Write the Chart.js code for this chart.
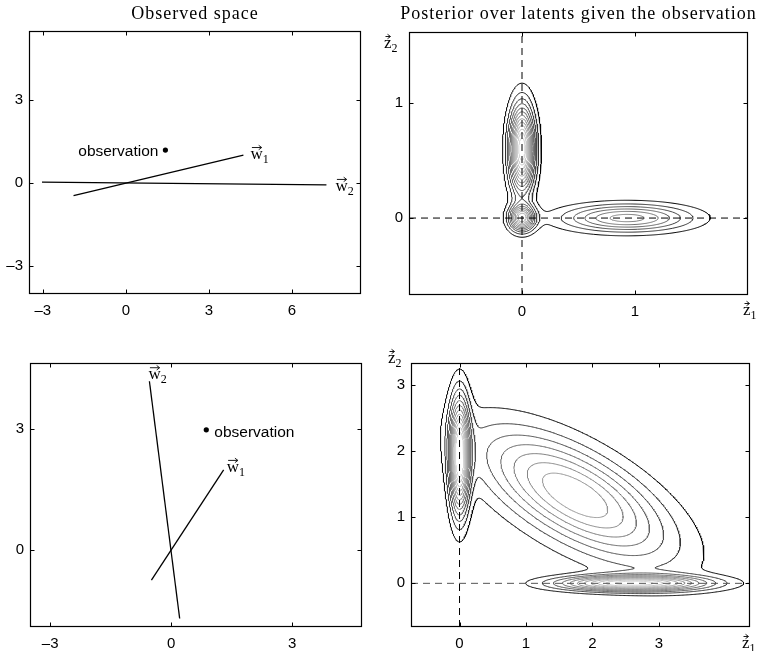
<!DOCTYPE html>
<html>
<head>
<meta charset="utf-8">
<script src="https://cdn.jsdelivr.net/npm/chart.js@4.4.1/dist/chart.umd.min.js"></script>
<style>
  html, body { margin: 0; padding: 0; background: #fff; }
  #wrap { position: relative; width: 763px; height: 651px; }
  #wrap canvas { position: absolute; left: 0; top: 0; }
</style>
</head>
<body>
<div id="wrap">
  <canvas id="obsTop" width="763" height="651"></canvas>
  <canvas id="postTop" width="763" height="651"></canvas>
  <canvas id="obsBot" width="763" height="651"></canvas>
  <canvas id="postBot" width="763" height="651"></canvas>
</div>
<script>
// ---- observed space, top row
const obsTopXTicks = [-3, 0, 3, 6];
const obsTopYTicks = [-3, 0, 3];
const obsTopW1 = [[-1.89, -0.45], [4.25, 1.02]];
const obsTopW2 = [[-3.03, 0.04], [7.25, -0.06]];
const obsTopPoint = [1.43, 1.2];

// ---- observed space, bottom row
const obsBotXTicks = [-3, 0, 3];
const obsBotYTicks = [0, 3];
const obsBotW1 = [[-0.49, -0.74], [1.3, 1.98]];
const obsBotW2 = [[0.21, -1.69], [-0.54, 4.17]];
const obsBotPoint = [0.87, 2.97];

// ---- posterior, top row (mixture components)
const postTopXTicks = [0, 1];
const postTopYTicks = [0, 1];
const postTopMeanX = [0, 0, 0.93];
const postTopMeanY = [0.6, 0, 0];
const postTopSdX = [0.075, 0.075, 0.38];
const postTopSdY = [0.25, 0.075, 0.08];
const postTopRho = [0, 0, 0];
const postTopPeak = [1.4, 1.0, 0.65];
const postTopLevels = [0.1, 0.2, 0.3, 0.4, 0.5, 0.6, 0.7, 0.8, 0.9, 1.0, 1.1, 1.2, 1.3];

// ---- posterior, bottom row
const postBotXTicks = [0, 1, 2, 3];
const postBotYTicks = [0, 1, 2, 3];
const postBotMeanX = [0, 1.74, 2.6];
const postBotMeanY = [1.92, 1.33, 0];
const postBotSdX = [0.1, 0.95, 0.73];
const postBotSdY = [0.57, 0.65, 0.078];
const postBotRho = [0, -0.66, 0];
const postBotPeak = [1.3, 0.8, 1.1];
const postBotLevels = [0.1, 0.2, 0.3, 0.4, 0.5, 0.6, 0.7, 0.8, 0.9, 1.0, 1.1, 1.2];

const W = 763, H = 651;
const SANS = '"Liberation Sans", Arial, sans-serif';
const SERIF = '"Liberation Serif", "Times New Roman", serif';

function fmtTick(v) {
  return v < 0 ? '\u2013' + Math.abs(v) : String(v);
}

function mixture(mx, my, sx, sy, rho, peak) {
  return function (x, y) {
    let s = 0;
    for (let k = 0; k < mx.length; k++) {
      const dx = (x - mx[k]) / sx[k];
      const dy = (y - my[k]) / sy[k];
      const r = rho[k];
      const q = (dx * dx - 2 * r * dx * dy + dy * dy) / (1 - r * r);
      s += peak[k] * Math.exp(-0.5 * q);
    }
    return s;
  };
}

// marching squares, segments chained into polylines
function contourLines(f, xr, yr, nx, ny, level) {
  const cols = nx + 1;
  const px = i => xr[0] + (xr[1] - xr[0]) * i / nx;
  const py = j => yr[0] + (yr[1] - yr[0]) * j / ny;
  const field = new Float64Array(cols * (ny + 1));
  for (let j = 0; j <= ny; j++) {
    for (let i = 0; i <= nx; i++) field[j * cols + i] = f(px(i), py(j));
  }
  const val = (i, j) => field[j * cols + i];
  const pts = new Map();
  const segs = [];

  function ep(id, i1, j1, i2, j2) {
    if (!pts.has(id)) {
      const a = val(i1, j1), b = val(i2, j2);
      const t = (level - a) / (b - a);
      pts.set(id, { x: px(i1) + (px(i2) - px(i1)) * t, y: py(j1) + (py(j2) - py(j1)) * t });
    }
    return id;
  }

  for (let j = 0; j < ny; j++) {
    for (let i = 0; i < nx; i++) {
      const a = val(i, j) >= level ? 1 : 0;
      const b = val(i + 1, j) >= level ? 2 : 0;
      const c = val(i + 1, j + 1) >= level ? 4 : 0;
      const d = val(i, j + 1) >= level ? 8 : 0;
      const code = a | b | c | d;
      if (code === 0 || code === 15) continue;
      const B = () => ep(2 * (j * cols + i), i, j, i + 1, j);
      const R = () => ep(2 * (j * cols + i + 1) + 1, i + 1, j, i + 1, j + 1);
      const T = () => ep(2 * ((j + 1) * cols + i), i, j + 1, i + 1, j + 1);
      const L = () => ep(2 * (j * cols + i) + 1, i, j, i, j + 1);
      const centerHigh = (val(i, j) + val(i + 1, j) + val(i + 1, j + 1) + val(i, j + 1)) / 4 >= level;
      switch (code) {
        case 1: case 14: segs.push([L(), B()]); break;
        case 2: case 13: segs.push([B(), R()]); break;
        case 3: case 12: segs.push([L(), R()]); break;
        case 4: case 11: segs.push([R(), T()]); break;
        case 6: case 9: segs.push([B(), T()]); break;
        case 7: case 8: segs.push([L(), T()]); break;
        case 5:
          if (centerHigh) { segs.push([B(), R()]); segs.push([T(), L()]); }
          else { segs.push([L(), B()]); segs.push([R(), T()]); }
          break;
        case 10:
          if (centerHigh) { segs.push([L(), B()]); segs.push([R(), T()]); }
          else { segs.push([B(), R()]); segs.push([T(), L()]); }
          break;
      }
    }
  }

  const adj = new Map();
  segs.forEach(function (s, k) {
    s.forEach(function (e) {
      if (!adj.has(e)) adj.set(e, []);
      adj.get(e).push(k);
    });
  });
  const used = new Uint8Array(segs.length);
  const lines = [];
  const walk = function (startId) {
    const out = [];
    let cur = startId;
    for (;;) {
      const next = (adj.get(cur) || []).find(m => !used[m]);
      if (next === undefined) break;
      used[next] = 1;
      const s = segs[next];
      cur = s[0] === cur ? s[1] : s[0];
      out.push(cur);
    }
    return out;
  };
  for (let k = 0; k < segs.length; k++) {
    if (used[k]) continue;
    used[k] = 1;
    const fwd = walk(segs[k][1]);
    const back = walk(segs[k][0]);
    const chain = back.reverse().concat([segs[k][0], segs[k][1]], fwd);
    lines.push(chain.map(id => pts.get(id)));
  }
  return lines;
}

function contourDatasets(f, xr, yr, nx, ny, levels) {
  return levels.map(function (lv, idx) {
    const t = levels.length > 1 ? idx / (levels.length - 1) : 0;
    const g = Math.round(215 * Math.pow(t, 0.6));
    const data = [];
    contourLines(f, xr, yr, nx, ny, lv).forEach(function (line) {
      line.forEach(p => data.push(p));
      data.push({ x: null, y: null });
    });
    return {
      data: data,
      showLine: true,
      spanGaps: false,
      borderColor: 'rgb(' + g + ',' + g + ',' + g + ')',
      borderWidth: 1,
      pointRadius: 0,
      tension: 0,
      order: 5,
    };
  });
}

function segDataset(pair, opts) {
  return Object.assign({
    data: pair.map(p => ({ x: p[0], y: p[1] })),
    showLine: true,
    borderColor: '#000',
    borderWidth: 1.3,
    pointRadius: 0,
    tension: 0,
    order: 1,
  }, opts || {});
}

function vecLabel(ctx, x, y, letter, sub) {
  ctx.save();
  ctx.fillStyle = '#000';
  ctx.strokeStyle = '#000';
  ctx.textAlign = 'left';
  ctx.textBaseline = 'alphabetic';
  ctx.font = '17px ' + SERIF;
  ctx.fillText(letter, x, y);
  const w = ctx.measureText(letter).width;
  ctx.font = '12px ' + SERIF;
  ctx.fillText(sub, x + w, y + 4);
  const ay = y - 11.5;
  ctx.lineWidth = 0.9;
  ctx.beginPath();
  ctx.moveTo(x + 1.5, ay);
  ctx.lineTo(x + w - 1.5, ay);
  ctx.moveTo(x + w - 4, ay - 2.2);
  ctx.lineTo(x + w - 1, ay);
  ctx.lineTo(x + w - 4, ay + 2.2);
  ctx.stroke();
  ctx.restore();
}

function framePlugin(xTicks, yTicks, extra) {
  return {
    id: 'frame',
    afterDraw: function (chart) {
      const ctx = chart.ctx;
      const a = chart.chartArea;
      const xs = chart.scales.x, ys = chart.scales.y;
      const l = Math.round(a.left) + 0.5, r = Math.round(a.right) - 0.5;
      const t = Math.round(a.top) + 0.5, b = Math.round(a.bottom) - 0.5;
      ctx.save();
      ctx.strokeStyle = '#000';
      ctx.lineWidth = 1;
      ctx.beginPath();
      xTicks.forEach(function (v) {
        const p = Math.round(xs.getPixelForValue(v)) + 0.5;
        ctx.moveTo(p, b); ctx.lineTo(p, b - 4);
        ctx.moveTo(p, t); ctx.lineTo(p, t + 4);
      });
      yTicks.forEach(function (v) {
        const p = Math.round(ys.getPixelForValue(v)) + 0.5;
        ctx.moveTo(l, p); ctx.lineTo(l + 4, p);
        ctx.moveTo(r, p); ctx.lineTo(r - 4, p);
      });
      ctx.stroke();
      ctx.lineWidth = 1.2;
      ctx.strokeRect(l, t, r - l, b - t);
      ctx.restore();
      if (extra) extra(chart, ctx, xs, ys);
    },
  };
}

function makeChart(id, box, xr, yr, xTicks, yTicks, datasets, extra) {
  const tickFont = { family: SANS, size: 15 };
  return new Chart(document.getElementById(id), {
    type: 'scatter',
    data: { datasets: datasets },
    options: {
      responsive: false,
      animation: false,
      events: [],
      layout: { padding: { left: 0, top: box.top, right: W - box.right, bottom: 0 } },
      plugins: { legend: { display: false }, tooltip: { enabled: false } },
      scales: {
        x: {
          type: 'linear', min: xr[0], max: xr[1],
          afterBuildTicks: function (s) { s.ticks = xTicks.map(v => ({ value: v })); },
          afterFit: function (s) { s.height = H - box.bottom; },
          grid: { display: false, drawTicks: false },
          border: { display: false },
          ticks: { color: '#000', font: tickFont, padding: 8, maxRotation: 0, autoSkip: false, callback: fmtTick },
        },
        y: {
          type: 'linear', min: yr[0], max: yr[1],
          afterBuildTicks: function (s) { s.ticks = yTicks.map(v => ({ value: v })); },
          afterFit: function (s) { s.width = box.left; },
          grid: { display: false, drawTicks: false },
          border: { display: false },
          ticks: { color: '#000', font: tickFont, padding: 6, autoSkip: false, callback: fmtTick },
        },
      },
    },
    plugins: [framePlugin(xTicks, yTicks, extra)],
  });
}

function title(ctx, text, cx) {
  ctx.save();
  ctx.fillStyle = '#000';
  ctx.font = '18px ' + SERIF;
  ctx.textAlign = 'center';
  ctx.textBaseline = 'alphabetic';
  ctx.letterSpacing = '1px';
  ctx.fillText(text, cx, 19);
  ctx.restore();
}

function obsLabel(ctx, text, x, y, align) {
  ctx.save();
  ctx.fillStyle = '#000';
  ctx.font = '15.5px ' + SANS;
  ctx.textAlign = align;
  ctx.textBaseline = 'middle';
  ctx.fillText(text, x, y);
  ctx.restore();
}

function dotDataset(p) {
  return {
    data: [{ x: p[0], y: p[1] }],
    pointRadius: 2.6,
    pointBackgroundColor: '#000',
    pointBorderColor: '#000',
    pointBorderWidth: 0,
    order: 0,
  };
}

// ---------- panel 1: observed space (top)
const boxObsTop = { left: 29, right: 361, top: 31, bottom: 294 };
const obsTopXR = [-3.5, 8.5], obsTopYR = [-4, 5.5];
makeChart('obsTop', boxObsTop, obsTopXR, obsTopYR, obsTopXTicks, obsTopYTicks,
  [segDataset(obsTopW1), segDataset(obsTopW2), dotDataset(obsTopPoint)],
  function (chart, ctx, xs, ys) {
    title(ctx, 'Observed space', (boxObsTop.left + boxObsTop.right) / 2);
    obsLabel(ctx, 'observation', xs.getPixelForValue(obsTopPoint[0]) - 7, ys.getPixelForValue(obsTopPoint[1]) + 2, 'right');
    vecLabel(ctx, xs.getPixelForValue(obsTopW1[1][0]) + 7, ys.getPixelForValue(obsTopW1[1][1]) + 4, 'w', '1');
    vecLabel(ctx, xs.getPixelForValue(obsTopW2[1][0]) + 9, ys.getPixelForValue(obsTopW2[1][1]) + 6, 'w', '2');
  });

// ---------- panel 2: posterior (top)
const boxPostTop = { left: 409, right: 748, top: 32, bottom: 295 };
const postTopXR = [-1, 2], postTopYR = [-0.67, 1.62];
const postTopF = mixture(postTopMeanX, postTopMeanY, postTopSdX, postTopSdY, postTopRho, postTopPeak);
makeChart('postTop', boxPostTop, postTopXR, postTopYR, postTopXTicks, postTopYTicks,
  [
    segDataset([[0, postTopYR[0]], [0, postTopYR[1]]], { borderDash: [7, 5], borderWidth: 1, order: 2 }),
    segDataset([[postTopXR[0], 0], [postTopXR[1], 0]], { borderDash: [7, 5], borderWidth: 1, order: 2 }),
  ].concat(contourDatasets(postTopF, postTopXR, postTopYR, 330, 260, postTopLevels)),
  function (chart, ctx) {
    title(ctx, 'Posterior over latents given the observation', (boxPostTop.left + boxPostTop.right) / 2);
    vecLabel(ctx, boxPostTop.left - 25, boxPostTop.top + 16, 'z', '2');
    vecLabel(ctx, boxPostTop.right - 5, boxPostTop.bottom + 20, 'z', '1');
  });

// ---------- panel 3: observed space (bottom)
const boxObsBot = { left: 30, right: 362, top: 363, bottom: 627 };
const obsBotXR = [-3.5, 4.73], obsBotYR = [-1.9, 4.62];
makeChart('obsBot', boxObsBot, obsBotXR, obsBotYR, obsBotXTicks, obsBotYTicks,
  [segDataset(obsBotW1), segDataset(obsBotW2), dotDataset(obsBotPoint)],
  function (chart, ctx, xs, ys) {
    obsLabel(ctx, 'observation', xs.getPixelForValue(obsBotPoint[0]) + 8, ys.getPixelForValue(obsBotPoint[1]) + 3, 'left');
    vecLabel(ctx, xs.getPixelForValue(obsBotW1[1][0]) + 3, ys.getPixelForValue(obsBotW1[1][1]) + 2, 'w', '1');
    vecLabel(ctx, xs.getPixelForValue(obsBotW2[1][0]) - 1, ys.getPixelForValue(obsBotW2[1][1]) - 2, 'w', '2');
  });

// ---------- panel 4: posterior (bottom)
const boxPostBot = { left: 411, right: 750, top: 363, bottom: 627 };
const postBotXR = [-0.73, 4.37], postBotYR = [-0.66, 3.33];
const postBotF = mixture(postBotMeanX, postBotMeanY, postBotSdX, postBotSdY, postBotRho, postBotPeak);
makeChart('postBot', boxPostBot, postBotXR, postBotYR, postBotXTicks, postBotYTicks,
  [
    segDataset([[0, postBotYR[0]], [0, postBotYR[1]]], { borderDash: [7, 5], borderWidth: 1, order: 2 }),
    segDataset([[postBotXR[0], 0], [postBotXR[1], 0]], { borderDash: [7, 5], borderWidth: 1, borderColor: '#555', order: 2 }),
  ].concat(contourDatasets(postBotF, postBotXR, postBotYR, 420, 330, postBotLevels)),
  function (chart, ctx) {
    vecLabel(ctx, boxPostBot.left - 23, boxPostBot.top, 'z', '2');
    vecLabel(ctx, boxPostBot.right - 8, boxPostBot.bottom + 21, 'z', '1');
  });
</script>
</body>
</html>
